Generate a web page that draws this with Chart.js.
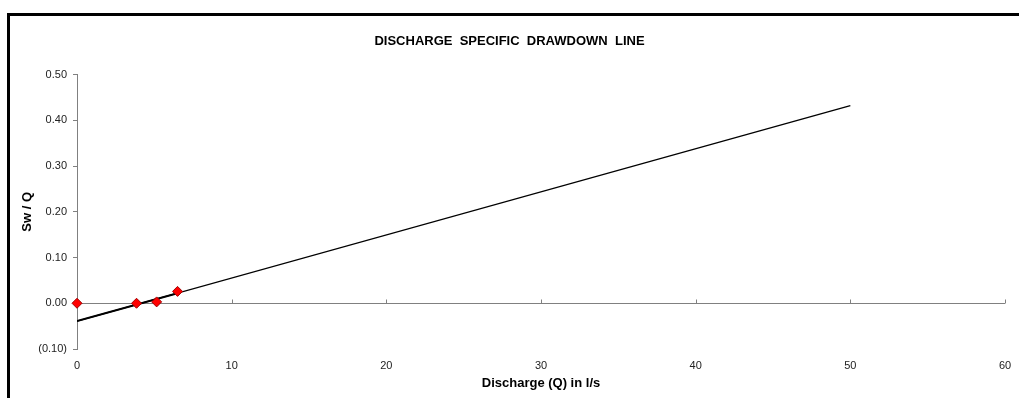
<!DOCTYPE html>
<html>
<head>
<meta charset="utf-8">
<script src="https://cdn.jsdelivr.net/npm/chart.js@4.4.1/dist/chart.umd.min.js"></script>
<style>
  html, body { margin: 0; padding: 0; background: #fff; overflow: hidden; }
  #frame { position: absolute; left: 7px; top: 13px; width: 1100px; height: 500px; border: 3px solid #000; }
  #wrap { position: absolute; left: 0; top: 0; width: 1019px; height: 398px; }
</style>
</head>
<body>
<div id="frame"></div>
<div id="wrap"><canvas id="chart"></canvas></div>
<script>
// measured points (discharge Q in l/s, Sw/Q)
const discharge = [0, 3.85, 5.15, 6.5];
const specificDrawdown = [0, 0.0, 0.003, 0.026];

// linear trend line
const trendQ = [0, 50];
const trendSwQ = [-0.039, 0.432];
// heavier segment over the measured range
const trendShortQ = [0, 6.5];
const trendShortSwQ = [-0.039, 0.022];

const xTicks = [0, 10, 20, 30, 40, 50, 60];
const yTicks = [-0.1, 0, 0.1, 0.2, 0.3, 0.4, 0.5];

const axisGray = '#808080';
const font = 'Liberation Sans, Arial, sans-serif';

function pts(xs, ys) { return xs.map((x, i) => ({x: x, y: ys[i]})); }

// x axis line sits at y = 0 with ticks pointing up, labels stay at the bottom
const zeroAxis = {
  id: 'zeroAxis',
  beforeDatasetsDraw(chart) {
    const {ctx, chartArea, scales: {x, y}} = chart;
    const y0 = Math.round(y.getPixelForValue(0)) + 0.5;
    ctx.save();
    ctx.strokeStyle = axisGray;
    ctx.lineWidth = 1;
    ctx.beginPath();
    ctx.moveTo(chartArea.left, y0);
    ctx.lineTo(chartArea.right, y0);
    xTicks.forEach(v => {
      const px = Math.round(x.getPixelForValue(v)) + 0.5;
      ctx.moveTo(px, y0);
      ctx.lineTo(px, y0 - 4);
    });
    ctx.stroke();
    ctx.restore();
  }
};

new Chart(document.getElementById('chart'), {
  type: 'scatter',
  data: {
    datasets: [
      {
        data: pts(trendQ, trendSwQ), showLine: true, borderColor: '#000', borderWidth: 1.3,
        pointRadius: 0, order: 3
      },
      {
        data: pts(trendShortQ, trendShortSwQ), showLine: true, borderColor: '#000', borderWidth: 2,
        pointRadius: 0, order: 2
      },
      {
        data: pts(discharge, specificDrawdown), showLine: false, clip: false,
        pointStyle: 'rectRot', pointRadius: 5, backgroundColor: '#ff0000',
        borderColor: '#a00000', borderWidth: 1, order: 1
      }
    ]
  },
  options: {
    responsive: true,
    maintainAspectRatio: false,
    animation: false,
    layout: { padding: { left: 0, right: 0, top: 0, bottom: 0 } },
    plugins: {
      legend: { display: false },
      tooltip: { enabled: false },
      title: {
        display: true,
        text: 'DISCHARGE  SPECIFIC  DRAWDOWN  LINE',
        color: '#000',
        font: { family: font, size: 13, weight: 'bold' },
        padding: { top: 34, bottom: 25 }
      }
    },
    scales: {
      x: {
        type: 'linear', min: 0, max: 60,
        afterFit(s) { s.height = 49; s.paddingLeft = 0; s.paddingRight = 14; },
        afterBuildTicks(s) { s.ticks = xTicks.map(v => ({value: v})); },
        border: { display: false },
        grid: { drawOnChartArea: false, drawTicks: false },
        ticks: { padding: 10, color: '#222', font: { family: font, size: 11 } },
        title: {
          display: true, text: 'Discharge (Q) in l/s', color: '#000',
          font: { family: font, size: 13, weight: 'bold' },
          padding: { top: 0, bottom: 7 }
        }
      },
      y: {
        type: 'linear', min: -0.1, max: 0.5,
        afterFit(s) { s.width = 77; },
        afterBuildTicks(s) { s.ticks = yTicks.map(v => ({value: v})); },
        border: { display: true, color: axisGray, width: 1 },
        grid: { drawOnChartArea: false, drawTicks: true, tickLength: 4, color: axisGray },
        ticks: {
          padding: 6, color: '#222', font: { family: font, size: 11 },
          callback: v => v < 0 ? '(' + Math.abs(v).toFixed(2) + ')' : v.toFixed(2)
        },
        title: {
          display: true, text: 'Sw / Q', color: '#000',
          font: { family: font, size: 13, weight: 'bold' },
          padding: { top: 20, bottom: 0 }
        }
      }
    }
  },
  plugins: [zeroAxis]
});
</script>
</body>
</html>
